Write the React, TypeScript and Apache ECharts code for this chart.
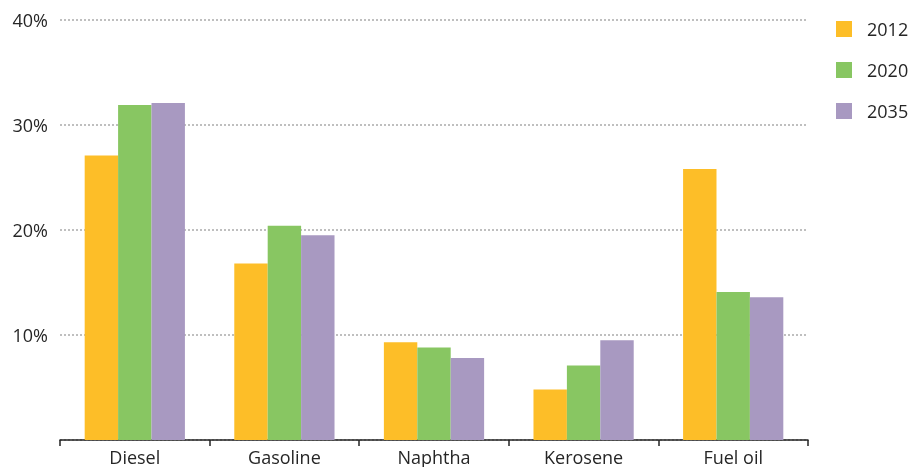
import React, { useEffect, useRef } from "react";
import * as echarts from "echarts";

const categories = ["Diesel", "Gasoline", "Naphtha", "Kerosene", "Fuel oil"];
const seriesNames = ["2012", "2020", "2035"];
const values2012 = [27.1, 16.8, 9.3, 4.8, 25.8];
const values2020 = [31.9, 20.4, 8.8, 7.1, 14.1];
const values2035 = [32.1, 19.5, 7.8, 9.5, 13.6];
const colors = ["#FDBE28", "#88C662", "#A899C1"];
const yTicks = [0, 10, 20, 30, 40];

export default function App() {
  const ref = useRef<HTMLDivElement>(null);
  useEffect(() => {
    if (!ref.current) return;
    const chart = echarts.init(ref.current, undefined, { renderer: "svg" });
    const data = [values2012, values2020, values2035];
    chart.setOption({
      animation: false,
      textStyle: { fontFamily: "'Open Sans', sans-serif" },
      grid: { left: 60, right: 104, top: 20, bottom: 27, containLabel: false },
      legend: {
        orient: "vertical",
        left: 836,
        top: 20,
        padding: 0,
        itemWidth: 16,
        itemHeight: 16,
        itemGap: 23,
        icon: "rect",
        data: seriesNames,
        textStyle: { fontSize: 18, color: "#262626", padding: [0, 0, 0, 10] },
      },
      xAxis: {
        type: "category",
        data: categories,
        axisLine: { show: true, lineStyle: { color: "#222", width: 1.5 } },
        axisTick: { show: true, length: 6, lineStyle: { color: "#222", width: 1.5 } },
        axisLabel: { fontSize: 18, color: "#262626", margin: 8 },
      },
      yAxis: {
        type: "value",
        min: yTicks[0],
        max: yTicks[yTicks.length - 1],
        interval: 10,
        axisLine: { show: false },
        axisTick: { show: false },
        axisLabel: {
          fontSize: 18,
          color: "#262626",
          margin: 12,
          formatter: (v: number) => (v === 0 ? "" : v + "%"),
        },
        splitLine: {
          show: true,
          lineStyle: { color: "#aaa", type: [2, 2], width: 1.5 },
        },
      },
      series: seriesNames.map((name, i) => ({
        name,
        type: "bar",
        data: data[i],
        barGap: "0%",
        barCategoryGap: "33%",
        itemStyle: { color: colors[i] },
      })),
    });
    return () => chart.dispose();
  }, []);
  return (
    <div
      ref={ref}
      style={{ position: "fixed", left: 0, top: 0, width: 912, height: 467 }}
    />
  );
}
